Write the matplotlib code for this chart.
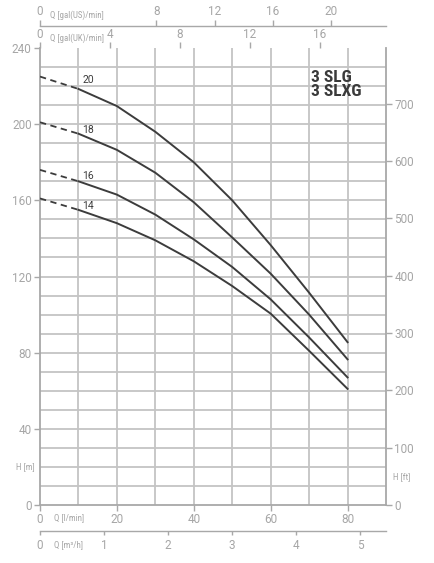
import matplotlib
matplotlib.use("Agg")
import matplotlib.pyplot as plt
from matplotlib.transforms import blended_transform_factory

# pump curves: flow in l/min, head in m
flow = [0, 10, 20, 30, 40, 50, 60, 70, 80]
head_20 = [225, 218.5, 209.5, 196, 180, 160, 136.5, 111.5, 85.5]
head_18 = [201, 195, 186.5, 174.5, 159, 140.5, 121.5, 100, 76.5]
head_16 = [176, 170, 163, 152.5, 139.5, 125, 108, 88, 67]
head_14 = [161, 155, 148, 139, 128, 115, 100.5, 81, 61]
curve_names = ["20", "18", "16", "14"]
label_heads = [223, 197, 173, 157]

h_ticks = [0, 40, 80, 120, 160, 200, 240]
ft_ticks = [0, 100, 200, 300, 400, 500, 600, 700]
q_ticks = [0, 20, 40, 60, 80]
m3h_ticks = [0, 1, 2, 3, 4, 5]
us_ticks = [0, 8, 12, 16, 20]
uk_ticks = [0, 4, 8, 12, 16]

FT_PER_M = 3.32
L_PER_USGAL = 3.785
L_PER_UKGAL = 4.546

GRID = "#c4c4c4"
SPINE = "#a8a8a8"
TXT = "#a6a6a6"
CURVE = "#3c3c3c"
NUM_FONT = ["Roboto", "DejaVu Sans"]
NARROW_FONT = ["Roboto Condensed", "Roboto", "DejaVu Sans"]

fig = plt.figure(figsize=(4.35, 5.63), dpi=100)
ax = fig.add_axes([40 / 435, 58 / 563, 346 / 435, 457 / 563])
ax.set_xlim(0, 90)
ax.set_ylim(0, 240)

for h in range(10, 240, 10):
    ax.axhline(h, color=GRID, lw=1.3, zorder=1)
for q in range(10, 90, 10):
    ax.axvline(q, color=GRID, lw=1.3, zorder=1)

for heads, name, lab_h in zip([head_20, head_18, head_16, head_14], curve_names, label_heads):
    ax.plot(flow[:2], heads[:2], color=CURVE, lw=1.3, ls=(0, (3.5, 2.5)), zorder=3)
    ax.plot(flow[1:], heads[1:], color=CURVE, lw=1.4, zorder=3)
    ax.text(11, lab_h, name, fontsize=7.5, color=CURVE, family=NUM_FONT,
            ha="left", va="center", zorder=4)

ax.text(70.5, 228.5, "3 SLG\n3 SLXG", fontsize=12.5, fontweight="bold", color="#3a3a3a",
        family=NARROW_FONT, ha="left", va="top", linespacing=0.95, zorder=4)

for side in ["left", "bottom", "right"]:
    ax.spines[side].set_color(SPINE)
    ax.spines[side].set_linewidth(1.3)
ax.spines["top"].set_visible(False)

ax.set_yticks(h_ticks)
ax.set_xticks(q_ticks)
ax.tick_params(axis="both", colors=SPINE, labelcolor=TXT, labelsize=8.5,
               length=4, width=1.0, direction="out", pad=2)
for lbl in ax.get_xticklabels() + ax.get_yticklabels():
    lbl.set_family(NUM_FONT)

# right axis in feet
ax_ft = ax.secondary_yaxis("right", functions=(lambda m: m * FT_PER_M, lambda f: f / FT_PER_M))
ax_ft.set_yticks(ft_ticks)
ax_ft.spines["right"].set_visible(False)
ax_ft.tick_params(colors=SPINE, labelcolor=TXT, labelsize=8.5, length=4, width=1.0, pad=2)
for lbl in ax_ft.get_yticklabels():
    lbl.set_family(NUM_FONT)

# bottom m3/h axis
ax_m3 = ax.secondary_xaxis(-26 / 457, functions=(lambda q: q * 0.06, lambda v: v / 0.06))
ax_m3.set_xticks(m3h_ticks)
ax_m3.spines["bottom"].set_color(SPINE)
ax_m3.spines["bottom"].set_linewidth(1.0)
ax_m3.tick_params(colors=SPINE, labelcolor=TXT, labelsize=8.5, length=3, width=1.0, pad=3)
for lbl in ax_m3.get_xticklabels():
    lbl.set_family(NUM_FONT)

# top gallon axes
ax_uk = ax.secondary_xaxis("top", functions=(lambda q: q / L_PER_UKGAL, lambda g: g * L_PER_UKGAL))
ax_uk.set_xticks(uk_ticks)
ax_uk.spines["top"].set_visible(False)
ax_uk.tick_params(colors=SPINE, labelcolor=TXT, labelsize=8.5, length=4, width=1.0, pad=1)
for lbl in ax_uk.get_xticklabels():
    lbl.set_family(NUM_FONT)

ax_us = ax.secondary_xaxis(1 + 22 / 457, functions=(lambda q: q / L_PER_USGAL, lambda g: g * L_PER_USGAL))
ax_us.set_xticks(us_ticks)
ax_us.spines["top"].set_color(SPINE)
ax_us.spines["top"].set_linewidth(1.0)
ax_us.tick_params(colors=SPINE, labelcolor=TXT, labelsize=8.5, length=4, width=1.0, pad=2)
for lbl in ax_us.get_xticklabels():
    lbl.set_family(NUM_FONT)

# unit captions
bx = blended_transform_factory(ax.transData, ax.transAxes)
unit_kw = dict(fontsize=6.4, color=TXT, family=NARROW_FONT, va="center", ha="left")
ax.text(3.6, -13 / 457, "Q [l/min]", transform=bx, **unit_kw)
ax.text(3.6, -40 / 457, "Q [m³/h]", transform=bx, **unit_kw)
ax.text(2.7, 1 + 10 / 457, "Q [gal(UK)/min]", transform=bx, **unit_kw)
ax.text(2.7, 1 + 33 / 457, "Q [gal(US)/min]", transform=bx, **unit_kw)
ax.text(-1.3, 20, "H [m]", fontsize=6.4, color=TXT, family=NARROW_FONT,
        ha="right", va="center")
ax.text(91.7, 15, "H [ft]", fontsize=6.4, color=TXT, family=NARROW_FONT,
        ha="left", va="center")

fig.savefig("out.png", dpi=100, facecolor="white")
